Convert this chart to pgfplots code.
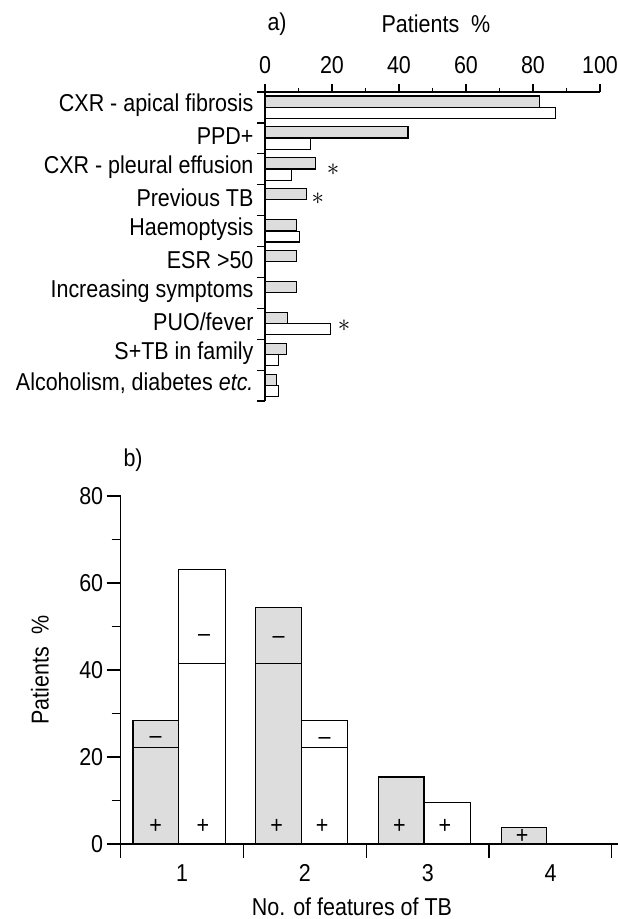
\documentclass[border=0pt]{standalone}
\usepackage{fontspec}
\setmainfont{Liberation Sans}[FakeStretch=0.88]
\usepackage{pgfplots}
\pgfplotsset{compat=1.18}
\definecolor{barg}{RGB}{221,221,221}
\newcommand\fs{\fontsize{24.4pt}{29pt}\selectfont}

\begin{document}
\begin{tikzpicture}
\useasboundingbox (0pt,0pt) rectangle (618pt,-919pt);
% ---------------- panel a ----------------
\begin{axis}[
  at={(265pt,-401pt)}, anchor=south west,
  scale only axis, width=335pt, height=309pt,
  xmin=0, xmax=100, ymin=0, ymax=10, y dir=reverse,
  axis x line=top, axis y line=left,
  axis line style={-, line width=1.2pt},
  every tick/.style={black, line width=1.2pt},
  tick align=outside,
  major tick length=8pt, minor tick length=4.5pt,
  xtick={0,20,...,100}, minor xtick={10,30,...,90},
  ytick={0,...,10},
  yticklabels={CXR - apical fibrosis, PPD+, CXR - pleural effusion, Previous TB, Haemoptysis, ESR >50, Increasing symptoms, PUO/fever, S+TB in family, {Alcoholism, diabetes \textit{etc.}}, {}},
  yticklabel style={font=\fs, yshift=-13.5pt},
  xticklabel style={font=\fs, yshift=7pt},
  /pgf/number format/assume math mode=true,
  clip=false,
]
\addplot[xbar, bar width=0.36, bar shift=0, fill=barg, draw=black, line width=1.1pt]
  coordinates {(82,0.31) (42.7,1.31) (15.1,2.31) (12.5,3.31) (9.5,4.31) (9.5,5.31) (9.5,6.31) (6.7,7.31) (6.5,8.31) (3.5,9.31)};
\addplot[xbar, bar width=0.35, bar shift=0, fill=white, draw=black, line width=1.1pt]
  coordinates {(86.7,0.68) (13.6,1.68) (8.0,2.68) (10.2,4.68) (19.5,7.68) (3.9,8.68) (4.1,9.68)};
\node[font=\fs] at (axis cs:20.3,2.52) {$\ast$};
\node[font=\fs] at (axis cs:15.8,3.45) {$\ast$};
\node[font=\fs] at (axis cs:23.6,7.55) {$\ast$};
\end{axis}
% ---------------- panel b ----------------
\begin{axis}[
  at={(120.7pt,-844pt)}, anchor=south west,
  scale only axis, width=497.3pt, height=348pt,
  xmin=0.5, xmax=4.55, ymin=0, ymax=80,
  axis x line=bottom, axis y line=left,
  axis line style={-, line width=1.2pt},
  every tick/.style={black, line width=1.2pt},
  tick align=outside,
  major tick length=14pt, minor tick length=9pt,
  xtick={0.5,1.5,...,4.5}, xticklabels={1,2,3,4,{}},
  xticklabel style={font=\fs, xshift=61.45pt, yshift=-3pt},
  ytick={0,20,...,80}, minor ytick={10,30,...,70},
  yticklabel style={font=\fs},
  /pgf/number format/assume math mode=true,
  clip=false,
]
% grey bars: total (filled), lower (+) segment, outline again
\addplot[ybar, bar width=0.37, bar shift=-0.215, fill=barg, draw=black, line width=1.1pt]
  coordinates {(1,28.3) (2,54.4) (3,15.4) (4,3.8)};
\addplot[ybar, bar width=0.37, bar shift=-0.215, fill=none, draw=black, line width=0.9pt]
  coordinates {(1,22.2) (2,41.4)};
% white bars
\addplot[ybar, bar width=0.38, bar shift=0.16, fill=white, draw=black, line width=1.1pt]
  coordinates {(1,63.1) (2,28.3) (3,9.6)};
\addplot[ybar, bar width=0.38, bar shift=0.16, fill=none, draw=black, line width=0.9pt]
  coordinates {(1,41.4) (2,22.2)};
% + / - markers
\node[font=\fs] at (axis cs:0.785,4.0) {+};
\node[font=\fs] at (axis cs:1.17,4.0) {+};
\node[font=\fs] at (axis cs:1.77,4.0) {+};
\node[font=\fs] at (axis cs:2.14,4.0) {+};
\node[font=\fs] at (axis cs:2.77,4.0) {+};
\node[font=\fs] at (axis cs:3.14,4.0) {+};
\node[font=\fs] at (axis cs:3.77,1.7) {+};
\node[font=\fs] at (axis cs:0.785,23.9) {\textendash};
\node[font=\fs] at (axis cs:1.18,47.3) {\textendash};
\node[font=\fs] at (axis cs:1.785,46.8) {\textendash};
\node[font=\fs] at (axis cs:2.16,23.7) {\textendash};
\end{axis}
% labels
\node[font=\fs, anchor=west] at (264pt,-24pt) {a)};
\node[font=\fs] at (436pt,-24pt) {Patients\hspace{12pt}\%};
\node[font=\fs, anchor=west] at (120pt,-460pt) {b)};
\node[font=\fs, rotate=90] at (40pt,-670pt) {Patients\hspace{12pt}\%};
\node[font=\fs] at (352pt,-907pt) {No. of features of TB};
\end{tikzpicture}
\end{document}
